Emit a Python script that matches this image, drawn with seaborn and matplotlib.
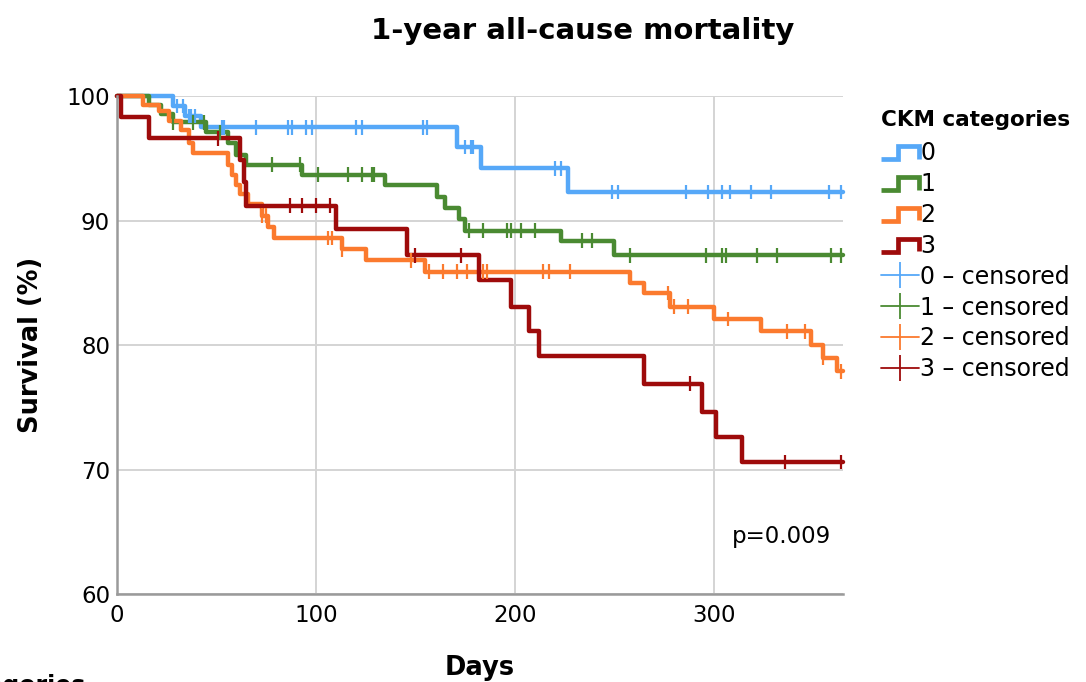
import numpy as np
import pandas as pd
import seaborn as sns
import matplotlib.pyplot as plt
from matplotlib.lines import Line2D
from matplotlib.legend_handler import HandlerBase

# Kaplan-Meier step data (day of event, survival % after it)
groups = ["0", "1", "2", "3"]
colors = ["#56a8f8", "#4a8a32", "#fb7a2e", "#9e0b0b"]

days_0 = [0, 28, 34, 42, 171, 183, 227, 365]
surv_0 = [100, 99.2, 98.4, 97.5, 95.9, 94.2, 92.3, 92.3]

days_1 = [0, 16, 22, 28, 45, 56, 60, 65, 93, 135, 161, 165, 172, 175, 223, 250, 365]
surv_1 = [100, 99.3, 98.6, 97.9, 97.1, 96.2, 95.3, 94.5, 93.7, 92.9, 91.9, 91.0, 90.1, 89.2, 88.4, 87.2, 87.2]

days_2 = [0, 13, 21, 26, 32, 36, 38, 56, 58, 60, 62, 66, 73, 76, 79, 113, 125, 155,
          258, 265, 278, 300, 324, 349, 355, 362, 365]
surv_2 = [100, 99.3, 98.8, 98.0, 97.3, 96.2, 95.4, 94.5, 93.7, 92.9, 92.1, 91.3, 90.4, 89.5, 88.6, 87.7, 86.8, 85.9,
          85.0, 84.2, 83.1, 82.1, 81.1, 80.0, 79.0, 77.9, 77.9]

days_3 = [0, 2, 16, 62, 64, 65, 110, 146, 182, 198, 207, 212, 265, 294, 301, 314, 365]
surv_3 = [100, 98.3, 96.6, 94.9, 93.1, 91.2, 89.3, 87.2, 85.2, 83.1, 81.1, 79.1, 76.9, 74.6, 72.6, 70.6, 70.6]

# censored observations (days)
cens_0 = [30, 33, 36, 37, 39, 53, 54, 70, 86, 88, 95, 98, 120, 123, 154, 156, 175, 178, 179,
          220, 223, 249, 252, 286, 297, 304, 308, 319, 329, 358, 364]
cens_1 = [28, 38, 44, 52, 78, 92, 101, 116, 123, 128, 129, 177, 184, 196, 198, 203, 210,
          234, 239, 258, 296, 304, 306, 322, 332, 359, 364]
cens_2 = [73, 75, 106, 108, 113, 148, 157, 164, 171, 176, 184, 186, 214, 217, 228,
          277, 280, 287, 307, 337, 346, 355, 364]
cens_3 = [51, 87, 93, 100, 107, 150, 173, 288, 336, 364]

p_text = "p=0.009"

all_days = [days_0, days_1, days_2, days_3]
all_surv = [surv_0, surv_1, surv_2, surv_3]
all_cens = [cens_0, cens_1, cens_2, cens_3]

# long tables for seaborn
curve_df = pd.concat([pd.DataFrame({"day": d, "surv": s, "group": g})
                      for d, s, g in zip(all_days, all_surv, groups)])
cens_rows = []
for d, s, c, g in zip(all_days, all_surv, all_cens, groups):
    idx = np.searchsorted(d, c, side="right") - 1
    cens_rows.append(pd.DataFrame({"day": c, "surv": np.array(s)[idx], "group": g}))
cens_df = pd.concat(cens_rows)

sns.set_theme(style="whitegrid")
plt.rcParams["font.family"] = ["DejaVu Sans"]
plt.rcParams["text.color"] = "black"
plt.rcParams["axes.labelcolor"] = "black"

fig = plt.figure(figsize=(10.86, 6.82), dpi=100)
ax = fig.add_axes([0.1077, 0.129, 0.6685, 0.730])

pal = dict(zip(groups, colors))
sns.lineplot(data=curve_df, x="day", y="surv", hue="group", palette=pal, estimator=None,
             sort=False, drawstyle="steps-post", lw=3.2, legend=False, ax=ax, clip_on=False)
sns.scatterplot(data=cens_df, x="day", y="surv", hue="group", palette=pal, marker="|",
                s=110, linewidth=1.6, legend=False, ax=ax, clip_on=False, zorder=3)

ax.set_xlim(0, 365)
ax.set_ylim(60, 100)
ax.set_xticks([0, 100, 200, 300])
ax.set_yticks([60, 70, 80, 90, 100])
ax.grid(True, color="#d4d4d4", lw=1.4)
for side in ["top", "right"]:
    ax.spines[side].set_visible(False)
for side in ["left", "bottom"]:
    ax.spines[side].set_color("#9a9a9a")
    ax.spines[side].set_linewidth(1.8)
ax.tick_params(axis="both", labelsize=16.5, colors="black", length=0)
ax.tick_params(axis="x", pad=7)
ax.tick_params(axis="y", pad=5)

ax.set_xlabel("Days", fontsize=18.5, fontweight="bold", labelpad=20)
ax.set_ylabel("Survival (%)", fontsize=18.5, fontweight="bold", labelpad=16)
fig.suptitle("1-year all-cause mortality", x=0.537, y=0.975, fontsize=21, fontweight="bold")

ax.text(359, 64.6, p_text, ha="right", va="center", fontsize=16.5)


# step-shaped legend icon
class StepHandler(HandlerBase):
    def create_artists(self, legend, orig_handle, xdescent, ydescent, width, height, fontsize, trans):
        x0, y0 = -xdescent, -ydescent
        xs = [x0, x0 + 0.45 * width, x0 + 0.45 * width, x0 + width, x0 + width]
        ys = [y0 + 0.05 * height, y0 + 0.05 * height, y0 + 0.85 * height, y0 + 0.85 * height, y0 + 0.1 * height]
        line = Line2D(xs, ys, color=orig_handle.get_color(), lw=orig_handle.get_linewidth(),
                      solid_joinstyle="miter", solid_capstyle="butt")
        line.set_transform(trans)
        return [line]


step_handles = [Line2D([], [], color=c, lw=3.4) for c in colors]
cens_handles = [Line2D([], [], color=c, lw=1.3, marker="|", markersize=19, mew=1.3) for c in colors]
handler_map = {h: StepHandler() for h in step_handles}
leg = ax.legend(step_handles + cens_handles,
                groups + [g + " \u2013 censored" for g in groups],
                handler_map=handler_map, title="CKM categories",
                loc="upper left", bbox_to_anchor=(1.03, 1.005), frameon=False,
                fontsize=17, title_fontsize=15.5, handlelength=1.6, handletextpad=0.05,
                labelspacing=0.29, borderpad=0.2)
leg.get_title().set_fontweight("bold")
leg._legend_box.align = "left"
leg._legend_box.sep = 8

# cut-off text at the bottom left edge
fig.text(0.079, 0.012, "CKM categories", ha="right", va="top", fontsize=17, fontweight="bold")

fig.savefig("out.png", dpi=100)
